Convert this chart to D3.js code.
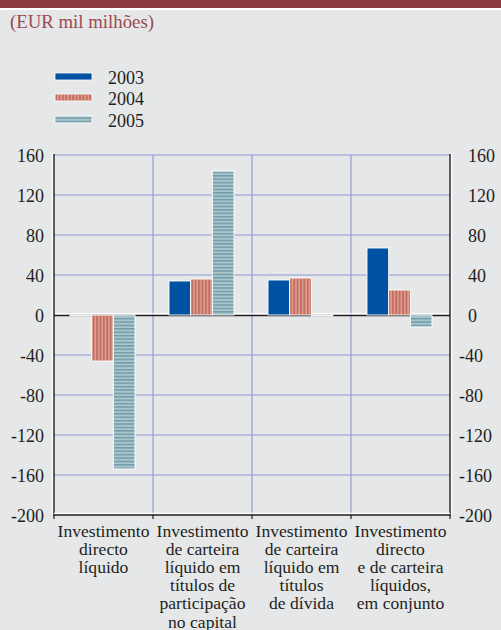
<!DOCTYPE html>
<html>
<head>
<meta charset="utf-8">
<script src="https://cdn.jsdelivr.net/npm/d3@7"></script>
<style>
  html, body { margin: 0; padding: 0; background: #E6E7E8; }
  svg { display: block; }
</style>
</head>
<body>
<svg id="chart" width="501" height="630"></svg>
<script>
// Net investment flows of the euro area, EUR billions
const years = ["2003", "2004", "2005"];
const categories = [
  ["Investimento", "directo", "líquido"],
  ["Investimento", "de carteira", "líquido em", "títulos de", "participação", "no capital"],
  ["Investimento", "de carteira", "líquido em", "títulos", "de dívida"],
  ["Investimento", "directo", "e de carteira", "líquidos,", "em conjunto"]
];
const values2003 = [-1, 34, 35, 67];
const values2004 = [-46, 36, 37, 25];
const values2005 = [-154, 144, -1, -12];
const yTicks = [160, 120, 80, 40, 0, -40, -80, -120, -160, -200];

const series = [values2003, values2004, values2005];
const fills = ["#0051A1", "url(#stripesV)", "url(#stripesH)"];

const SERIF = "'Liberation Serif'";
const INK = "#231F20";

const svg = d3.select("#chart");
const W = 501;

function label(sel, size, color) {
  return sel.style("font-family", SERIF).style("font-size", size + "px").style("fill", color || INK);
}

// header band and unit label
svg.append("rect").attr("x", 0).attr("y", 0).attr("width", W).attr("height", 8).attr("fill", "#8B3A3E");
svg.append("rect").attr("x", 0).attr("y", 8).attr("width", W).attr("height", 2).attr("fill", "#FFFFFF");
label(svg.append("text").attr("x", 10).attr("y", 27.5), 18.8, "#9A4A50")
  .text("(EUR mil milhões)");

// stripe patterns
const defs = svg.append("defs");
const pv = defs.append("pattern").attr("id", "stripesV")
  .attr("patternUnits", "userSpaceOnUse").attr("width", 3.4).attr("height", 10);
pv.append("rect").attr("width", 3.4).attr("height", 10).attr("fill", "#E0A293");
pv.append("rect").attr("x", 0.9).attr("width", 1.9).attr("height", 10).attr("fill", "#C36D62");

const ph = defs.append("pattern").attr("id", "stripesH")
  .attr("patternUnits", "userSpaceOnUse").attr("width", 10).attr("height", 3.4);
ph.append("rect").attr("width", 10).attr("height", 3.4).attr("fill", "#A9C6CD");
ph.append("rect").attr("y", 1.8).attr("width", 10).attr("height", 1.3).attr("fill", "#6A97A3");

// scales
const plotLeft = 54, plotRight = 450, plotTop = 155, plotBottom = 515;
const y = d3.scaleLinear().domain([-200, 160]).range([plotBottom, plotTop]);
const x = d3.scaleBand().domain(d3.range(categories.length)).range([plotLeft, plotRight]).padding(0);
const xs = d3.scaleBand().domain(d3.range(years.length)).range([16, 81]).padding(0);

// grid
const grid = svg.append("g");
grid.selectAll("line.h").data(yTicks.filter(t => t !== 0 && t !== -200)).enter().append("line")
  .attr("x1", plotLeft).attr("x2", plotRight).attr("y1", d => y(d)).attr("y2", d => y(d))
  .attr("stroke", "#8E9CD6").attr("stroke-width", 1.2);
grid.selectAll("line.v").data(d3.range(1, categories.length)).enter().append("line")
  .attr("x1", d => x(d)).attr("x2", d => x(d)).attr("y1", plotTop).attr("y2", plotBottom)
  .attr("stroke", "#8E9CD6").attr("stroke-width", 1.2);

// zero line
svg.append("line").attr("x1", plotLeft).attr("x2", plotRight).attr("y1", y(0) - 1.2).attr("y2", y(0) - 1.2)
  .attr("stroke", "#FFFFFF").attr("stroke-width", 1.4);
svg.append("line").attr("x1", plotLeft).attr("x2", plotRight).attr("y1", y(0) + 0.5).attr("y2", y(0) + 0.5)
  .attr("stroke", INK).attr("stroke-width", 1.4);

// bars
series.forEach((vals, si) => {
  svg.append("g").selectAll("rect").data(vals).enter().append("rect")
    .attr("x", (d, i) => x(i) + xs(si))
    .attr("width", xs.bandwidth())
    .attr("y", d => y(Math.max(0, d)))
    .attr("height", d => Math.abs(y(d) - y(0)))
    .attr("fill", fills[si])
    .attr("stroke", "#FFFFFF").attr("stroke-width", 0.9);
});

// axes frame: dark lines with white outer edge
svg.append("line").attr("x1", plotLeft - 1.5).attr("x2", plotLeft - 1.5).attr("y1", plotTop - 1).attr("y2", plotBottom)
  .attr("stroke", "#FFFFFF").attr("stroke-width", 1.4);
svg.append("line").attr("x1", plotLeft).attr("x2", plotLeft).attr("y1", plotTop - 1).attr("y2", plotBottom + 1)
  .attr("stroke", INK).attr("stroke-width", 1.4);
svg.append("line").attr("x1", plotRight + 1.5).attr("x2", plotRight + 1.5).attr("y1", plotTop - 1).attr("y2", plotBottom)
  .attr("stroke", "#FFFFFF").attr("stroke-width", 1.4);
svg.append("line").attr("x1", plotRight).attr("x2", plotRight).attr("y1", plotTop - 1).attr("y2", plotBottom + 1)
  .attr("stroke", INK).attr("stroke-width", 1.4);
svg.append("line").attr("x1", plotLeft).attr("x2", plotRight).attr("y1", plotBottom - 1.5).attr("y2", plotBottom - 1.5)
  .attr("stroke", "#FFFFFF").attr("stroke-width", 1.4);
svg.append("line").attr("x1", plotLeft).attr("x2", plotRight).attr("y1", plotBottom).attr("y2", plotBottom)
  .attr("stroke", INK).attr("stroke-width", 1.4);
svg.selectAll("line.tick").data(d3.range(categories.length + 1)).enter().append("line")
  .attr("x1", d => d < categories.length ? x(d) : plotRight)
  .attr("x2", d => d < categories.length ? x(d) : plotRight)
  .attr("y1", plotBottom).attr("y2", plotBottom + 4)
  .attr("stroke", INK).attr("stroke-width", 1.2);

// y tick labels, both sides
label(svg.append("g").selectAll("text").data(yTicks).enter().append("text")
  .attr("x", 44).attr("y", d => y(d) + 7)
  .attr("text-anchor", "end"), 18)
  .text(d => d);
label(svg.append("g").selectAll("text").data(yTicks).enter().append("text")
  .attr("x", d => d < 0 ? 459 : 468).attr("y", d => y(d) + 7)
  .attr("text-anchor", "start"), 18)
  .text(d => d);

// category labels, one text per line
const lines = categories.flatMap((c, i) => c.map((s, j) => ({ s, i, j })));
label(svg.append("g").selectAll("text").data(lines).enter().append("text")
  .attr("text-anchor", "middle")
  .attr("x", d => x(d.i) + x.bandwidth() / 2)
  .attr("y", d => 536.5 + d.j * 18.2), 17.6)
  .text(d => d.s);

// legend
const legend = svg.append("g");
years.forEach((yr, i) => {
  const ly = [73, 94, 116][i];
  legend.append("rect").attr("x", 55).attr("y", ly).attr("width", 37).attr("height", 7)
    .attr("fill", fills[i]).attr("stroke", "#FFFFFF").attr("stroke-width", 0.8);
  label(legend.append("text").attr("x", 108).attr("y", ly + 10.5), 18).text(yr);
});
</script>
</body>
</html>
